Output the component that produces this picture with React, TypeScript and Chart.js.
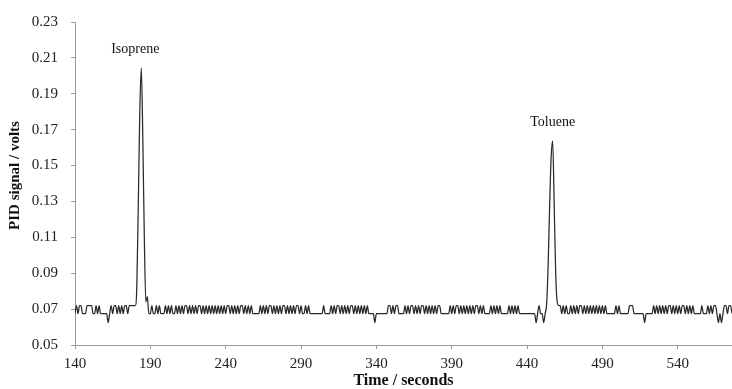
import React, { useEffect, useRef } from 'react';
import { Chart, registerables } from 'chart.js';

Chart.register(...registerables);

// Sampling of the PID trace (seconds)
const sampleStart = 140;
const sampleInterval = 1;

// Detector levels (volts)
const L = 0.0675; // low baseline step
const H = 0.072; // high baseline step
const D = 0.0625; // occasional dip

// PID signal, one value per second from t = 140 s
const signalVolts: number[] = [
  // 140
  L, H, L, H, H, L, L, L, H, H,
  // 150
  H, H, L, L, H, L, H, L, L, L,
  // 160
  L, L, D, L, H, L, H, H, L, H,
  // 170
  L, H, L, H, H, L, H, H, H, H,
  // 180 (isoprene peak)
  H, 0.082, 0.128, 0.18, 0.2045, 0.165, 0.11, 0.074, 0.077, L,
  // 190
  L, H, L, L, H, L, H, L, L, L,
  // 200
  H, L, H, L, H, L, L, H, L, H,
  // 210
  L, H, L, H, H, L, H, L, H, L,
  // 220
  H, L, H, H, L, H, L, H, L, H,
  // 230
  L, H, L, H, L, H, L, H, L, H,
  // 240
  L, H, H, L, H, L, H, L, H, L,
  // 250
  H, H, L, H, L, H, L, H, L, L,
  // 260
  L, L, L, H, L, H, L, H, L, H,
  // 270
  H, L, H, L, H, L, H, L, H, H,
  // 280
  L, H, L, H, L, H, L, H, H, L,
  // 290
  H, L, L, H, L, H, L, L, L, L,
  // 300
  L, L, L, L, L, H, L, L, L, L,
  // 310
  H, L, H, L, H, H, L, H, L, H,
  // 320
  L, H, L, H, H, L, H, L, H, L,
  // 330
  H, L, H, L, H, L, L, L, L, D,
  // 340
  L, L, L, L, L, L, L, L, H, H,
  // 350
  L, H, L, H, H, L, L, L, L, H,
  // 360
  L, H, L, H, H, L, H, L, H, L,
  // 370
  H, H, L, H, L, H, L, H, L, H,
  // 380
  L, H, H, L, L, L, L, L, L, H,
  // 390
  L, H, L, H, H, L, H, L, H, L,
  // 400
  H, L, H, L, H, L, H, H, L, H,
  // 410
  L, H, L, L, L, L, H, L, H, L,
  // 420
  H, L, H, L, L, L, L, L, H, L,
  // 430
  H, L, H, L, H, L, L, L, L, L,
  // 440
  L, L, L, L, L, L, D, L, H, L,
  // 450 (toluene peak)
  L, D, L, 0.073, 0.095, 0.128, 0.155, 0.1636, 0.128, 0.09,
  // 460
  0.074, H, H, L, H, L, H, L, L, H,
  // 470
  L, H, L, H, L, H, H, L, H, L,
  // 480
  H, L, H, L, H, L, H, L, H, L,
  // 490
  H, L, H, L, L, L, L, L, L, H,
  // 500
  L, H, L, L, L, L, L, L, H, H,
  // 510
  H, L, L, L, L, L, L, L, D, L,
  // 520
  L, L, L, L, H, L, H, L, H, L,
  // 530
  H, L, H, L, H, H, L, H, L, H,
  // 540
  L, H, L, H, H, L, H, L, H, L,
  // 550
  H, L, L, L, L, L, H, L, L, L,
  // 560
  H, L, H, L, H, H, L, D, L, D,
  // 570
  L, H, H, L, H, H, L,
];

const xMin = 140;
const xMax = 576;
const yMin = 0.05;
const yMax = 0.23;
const xTickValues = [140, 190, 240, 290, 340, 390, 440, 490, 540];
const yTickValues = [0.05, 0.07, 0.09, 0.11, 0.13, 0.15, 0.17, 0.19, 0.21, 0.23];

const peakNames = ['Isoprene', 'Toluene'];
const peakLabelTimes = [180, 457];
const peakLabelValues = [0.2045, 0.1636];

const yAxisTitle = 'PID signal / volts';
const xAxisTitle = 'Time / seconds';

const SERIF = "'Liberation Serif', 'Times New Roman', serif";

const annotationPlugin = {
  id: 'annotations',
  afterDatasetsDraw(chart: any) {
    const { ctx, scales, chartArea } = chart;
    ctx.save();
    ctx.font = `14px ${SERIF}`;
    ctx.fillStyle = '#111';
    ctx.textAlign = 'center';
    ctx.textBaseline = 'alphabetic';
    peakNames.forEach((name, i) => {
      const px = scales.x.getPixelForValue(peakLabelTimes[i]);
      const py = scales.y.getPixelForValue(peakLabelValues[i]);
      ctx.fillText(name, px, py - 15);
    });
    ctx.restore();

    // y-axis title, slightly above the chart-area centre as in the source
    ctx.save();
    ctx.font = `bold 15px ${SERIF}`;
    ctx.fillStyle = '#111';
    ctx.textAlign = 'center';
    ctx.textBaseline = 'middle';
    ctx.translate(15, (chartArea.top + chartArea.bottom) / 2 - 8);
    ctx.rotate(-Math.PI / 2);
    ctx.fillText(yAxisTitle, 0, 0);
    ctx.restore();
  },
};

export default function App() {
  const canvasRef = useRef<HTMLCanvasElement | null>(null);

  useEffect(() => {
    const canvas = canvasRef.current;
    if (!canvas) return;
    const points = signalVolts.map((v, i) => ({ x: sampleStart + i * sampleInterval, y: v }));
    const chart = new Chart(canvas, {
      type: 'line',
      data: {
        datasets: [
          {
            data: points,
            borderColor: '#2a2a2a',
            borderWidth: 1.25,
            pointRadius: 0,
            cubicInterpolationMode: 'monotone',
            fill: false,
          },
        ],
      },
      options: {
        animation: false,
        responsive: false,
        devicePixelRatio: 1,
        layout: { padding: { top: 15, right: 0, bottom: 0, left: 0 } },
        plugins: {
          legend: { display: false },
          tooltip: { enabled: false },
        },
        scales: {
          x: {
            type: 'linear',
            min: xMin,
            max: xMax,
            afterBuildTicks: (scale: any) => {
              scale.ticks = xTickValues.map((v) => ({ value: v }));
            },
            afterFit: (scale: any) => {
              scale.height = 44;
            },
            grid: {
              drawOnChartArea: false,
              drawTicks: true,
              tickLength: 4,
              color: '#9a9a9a',
            },
            border: { display: true, color: '#9a9a9a', width: 1 },
            ticks: {
              autoSkip: false,
              maxRotation: 0,
              padding: 6,
              color: '#222',
              font: { family: SERIF, size: 15 },
              callback: (v: any) => String(v),
            },
            title: {
              display: true,
              text: xAxisTitle,
              color: '#111',
              font: { family: SERIF, size: 16, weight: 'bold', lineHeight: 1 },
              padding: { top: 0, bottom: 0 },
            },
          },
          y: {
            type: 'linear',
            min: yMin,
            max: yMax,
            afterBuildTicks: (scale: any) => {
              scale.ticks = yTickValues.map((v) => ({ value: v }));
            },
            afterFit: (scale: any) => {
              scale.width = 75;
            },
            grid: {
              drawOnChartArea: false,
              drawTicks: true,
              tickLength: 4,
              color: '#9a9a9a',
            },
            border: { display: true, color: '#9a9a9a', width: 1 },
            ticks: {
              autoSkip: false,
              padding: 13,
              color: '#222',
              font: { family: SERIF, size: 15 },
              callback: (v: any) => Number(v).toFixed(2),
            },
            title: { display: false },
          },
        },
      },
      plugins: [annotationPlugin],
    } as any);
    return () => chart.destroy();
  }, []);

  return (
    <div style={{ position: 'absolute', left: 0, top: 0, width: 732, height: 389, background: '#fff' }}>
      <canvas ref={canvasRef} width={732} height={389} style={{ display: 'block', width: 732, height: 389 }} />
    </div>
  );
}
